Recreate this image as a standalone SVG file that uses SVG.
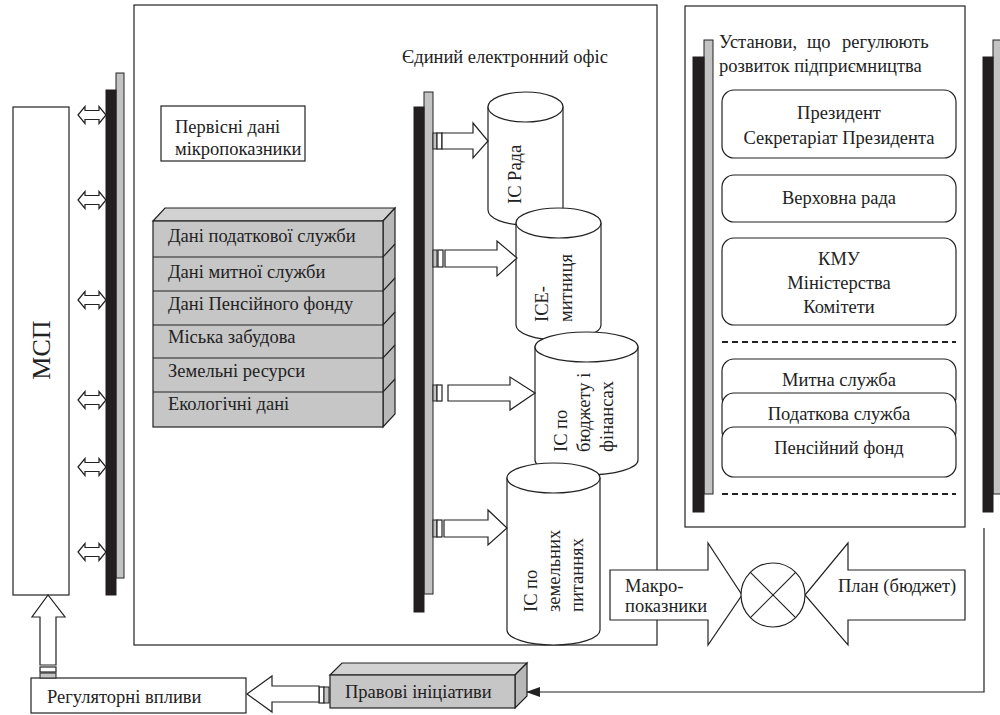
<svg xmlns="http://www.w3.org/2000/svg" width="1000" height="715" viewBox="0 0 1000 715">
<style>
text{font-family:"Liberation Serif","Times New Roman",serif;font-size:18.5px;fill:#222}
.ln{fill:none;stroke:#222;stroke-width:1.2}
.wb{fill:#fff;stroke:#222;stroke-width:1.2}
.blk{fill:#231f20;stroke:#231f20;stroke-width:1}
.gry{fill:#c3c3c3;stroke:#222;stroke-width:1}
.gf{fill:#c6c6c6;stroke:#222;stroke-width:1.2}
.gt{fill:#d2d2d2;stroke:#222;stroke-width:1.2}
.gs{fill:#b8b8b8;stroke:#222;stroke-width:1.2}
.dash{fill:none;stroke:#222;stroke-width:2;stroke-dasharray:6 4}
.c{text-anchor:middle}
</style>
<defs>
<path id="dbl" d="M78,0 L85,-8.5 L85,-4.5 L99,-4.5 L99,-8.5 L106,0 L99,8.5 L99,4.5 L85,4.5 L85,8.5 Z" fill="#fff" stroke="#222" stroke-width="1.2"/>
<marker id="ah" markerWidth="14" markerHeight="10" refX="13" refY="5" orient="auto" markerUnits="userSpaceOnUse">
<path d="M0,0 L14,5 L0,10 Z" fill="#222"/>
</marker>
</defs>

<g id="panel-office">
<rect x="134" y="5" width="523" height="640" class="wb"/>
<text x="402" y="63">Єдиний електронний офіс</text>
</g>

<g id="panel-institutions">
<rect x="685" y="6" width="280" height="521" class="wb"/>
<text y="48"><tspan x="719">Установи,</tspan><tspan x="807">що</tspan><tspan x="842">регулюють</tspan></text>
<text x="719" y="72">розвиток підприємництва</text>
</g>

<g id="msp">
<rect x="13" y="107" width="56" height="488" class="wb"/>
<text class="c" transform="translate(50,350) rotate(-90)" style="font-size:26px">МСП</text>
</g>

<g id="bus-left">
<rect x="116" y="73" width="8" height="505" class="gry"/>
<rect x="106" y="90" width="10" height="505" class="blk"/>
</g>

<g id="bus-office">
<rect x="424" y="92" width="9" height="502" class="gry"/>
<rect x="414" y="107" width="10" height="505" class="blk"/>
</g>

<g id="bus-institutions">
<rect x="704" y="40" width="9" height="454" class="gry"/>
<rect x="693" y="57" width="11" height="455" class="blk"/>
</g>

<g id="bus-right">
<rect x="993" y="40" width="10" height="454" class="gry"/>
<rect x="983" y="57" width="10" height="455" class="blk"/>
</g>

<g id="primary-data">
<rect x="161" y="106" width="144" height="55" class="wb"/>
<text x="175" y="133">Первісні дані</text>
<text x="175" y="155">мікропоказники</text>
</g>

<g id="data-stack">
<polygon points="153,221 165,208 395,208 383,221" class="gt"/>
<polygon points="383,221 395,208 395,414 383,427" class="gs"/>
<rect x="153" y="221" width="230" height="206" class="gf"/>
<path d="M153,257 H383 L395,244 M153,291 H383 L395,278 M153,325 H383 L395,312 M153,358 H383 L395,345 M153,392 H383 L395,379" class="ln"/>
<text x="168" y="242">Дані податкової служби</text>
<text x="168" y="278">Дані митної служби</text>
<text x="168" y="310">Дані Пенсійного фонду</text>
<text x="168" y="343">Міська забудова</text>
<text x="168" y="377">Земельні ресурси</text>
<text x="168" y="410">Екологічні дані</text>
</g>

<g id="is-rada">
<path d="M488,107 L488,210 A37.5,15 0 0 0 563,210 L563,107 Z" class="wb"/>
<ellipse cx="525.5" cy="107" rx="37.5" ry="15" class="wb"/>
<text transform="translate(521,204) rotate(-90)">ІС Рада</text>
</g>

<g id="is-customs">
<path d="M516,223 L516,325 A42.5,15 0 0 0 601,325 L601,223 Z" class="wb"/>
<ellipse cx="558.5" cy="223" rx="42.5" ry="15" class="wb"/>
<text transform="translate(548,322) rotate(-90)">ICE-</text>
<text transform="translate(572,322) rotate(-90)">митниця</text>
</g>

<g id="is-budget">
<path d="M535,347 L535,460 A51.5,15 0 0 0 638,460 L638,347 Z" class="wb"/>
<ellipse cx="586.5" cy="347" rx="51.5" ry="15" class="wb"/>
<text transform="translate(567,452) rotate(-90)">ІС по</text>
<text transform="translate(590,452) rotate(-90)">бюджету і</text>
<text transform="translate(613,452) rotate(-90)">фінансах</text>
</g>

<g id="is-land">
<path d="M507,478 L507,630 A46.5,15 0 0 0 600,630 L600,478 Z" class="wb"/>
<ellipse cx="553.5" cy="478" rx="46.5" ry="15" class="wb"/>
<text transform="translate(537,612) rotate(-90)">ІС по</text>
<text transform="translate(560,612) rotate(-90)">земельних</text>
<text transform="translate(583,612) rotate(-90)">питаннях</text>
</g>

<g id="inst-president">
<rect x="722" y="90" width="234" height="68" rx="12" class="wb"/>
<text x="839" y="119" class="c">Президент</text>
<text x="839" y="144" class="c">Секретаріат Президента</text>
</g>
<g id="inst-rada">
<rect x="722" y="175" width="234" height="47" rx="12" class="wb"/>
<text x="839" y="204" class="c">Верховна рада</text>
</g>
<g id="inst-kmu">
<rect x="722" y="238" width="234" height="87" rx="12" class="wb"/>
<text x="839" y="265" class="c">КМУ</text>
<text x="839" y="289" class="c">Міністерства</text>
<text x="839" y="313" class="c">Комітети</text>
</g>
<g id="separators">
<line x1="722" y1="342" x2="956" y2="342" class="dash"/>
<line x1="722" y1="494" x2="956" y2="494" class="dash"/>
</g>
<g id="inst-customs">
<rect x="722" y="359" width="234" height="50" rx="12" class="wb"/>
<text x="839" y="386" class="c">Митна служба</text>
</g>
<g id="inst-tax">
<rect x="722" y="393" width="234" height="50" rx="12" class="wb"/>
<text x="839" y="420" class="c">Податкова служба</text>
</g>
<g id="inst-pension">
<rect x="722" y="427" width="234" height="50" rx="12" class="wb"/>
<text x="839" y="454" class="c">Пенсійний фонд</text>
</g>

<g id="legal-initiatives">
<polygon points="330,675 342,663 527,663 515,675" class="gt"/>
<polygon points="515,675 527,663 527,696 515,708" class="gs"/>
<rect x="330" y="675" width="185" height="33" class="gf"/>
<text x="345" y="698">Правові ініціативи</text>
</g>

<g id="regulatory">
<rect x="31" y="678" width="215" height="35" class="wb"/>
<text x="47" y="703">Регуляторні впливи</text>
</g>

<g id="comparator">
<path d="M610,570 L708,570 L708,543 L742,595 L708,645 L708,620 L610,620 Z" class="wb"/>
<path d="M965,570 L848,570 L848,543 L805,595 L848,645 L848,620 L965,620 Z" class="wb"/>
<circle cx="773" cy="595" r="32" class="wb"/>
<path d="M750.4,572.4 L795.6,617.6 M795.6,572.4 L750.4,617.6" class="ln"/>
<text x="625" y="592">Макро-</text>
<text x="625" y="612">показники</text>
<text x="838" y="592">План (бюджет)</text>
</g>

<g id="connectors">
<use href="#dbl" y="115"/>
<use href="#dbl" y="200"/>
<use href="#dbl" y="300"/>
<use href="#dbl" y="400"/>
<use href="#dbl" y="467"/>
<use href="#dbl" y="552"/>

<rect x="433" y="133" width="4" height="16" class="gry"/>
<rect x="437" y="133" width="5" height="16" class="wb"/>
<path d="M442,133 L473,133 L473,123 L488,141 L473,158 L473,149 L442,149 Z" class="wb"/>

<rect x="433" y="250" width="4" height="17" class="gry"/>
<rect x="438" y="250" width="5" height="17" class="wb"/>
<path d="M445,250 L497,250 L497,241 L517,258 L497,276 L497,267 L445,267 Z" class="wb"/>

<rect x="433" y="385" width="4" height="16" class="gry"/>
<rect x="437" y="385" width="5" height="16" class="wb"/>
<path d="M448,385 L510,385 L510,377 L535,393 L510,410 L510,401 L448,401 Z" class="wb"/>

<rect x="433" y="520" width="4" height="17" class="gry"/>
<rect x="437" y="520" width="5" height="17" class="wb"/>
<path d="M444,520 L488,520 L488,510 L507,528 L488,545 L488,537 L444,537 Z" class="wb"/>

<rect x="40" y="667" width="16" height="5" class="wb"/>
<rect x="40" y="673" width="16" height="5" class="gry"/>
<path d="M40,665 L40,617 L32,617 L48,595 L65,617 L56,617 L56,665 Z" class="wb"/>

<rect x="319" y="687" width="5" height="16" class="wb"/>
<rect x="324" y="687" width="5" height="16" class="gry"/>
<path d="M319,686 L272,686 L272,676 L247,694 L272,712 L272,702 L319,702 Z" class="wb"/>

<path d="M984,528 L984,692 L527,692" class="ln" stroke-width="1.5" marker-end="url(#ah)"/>
</g>
</svg>
